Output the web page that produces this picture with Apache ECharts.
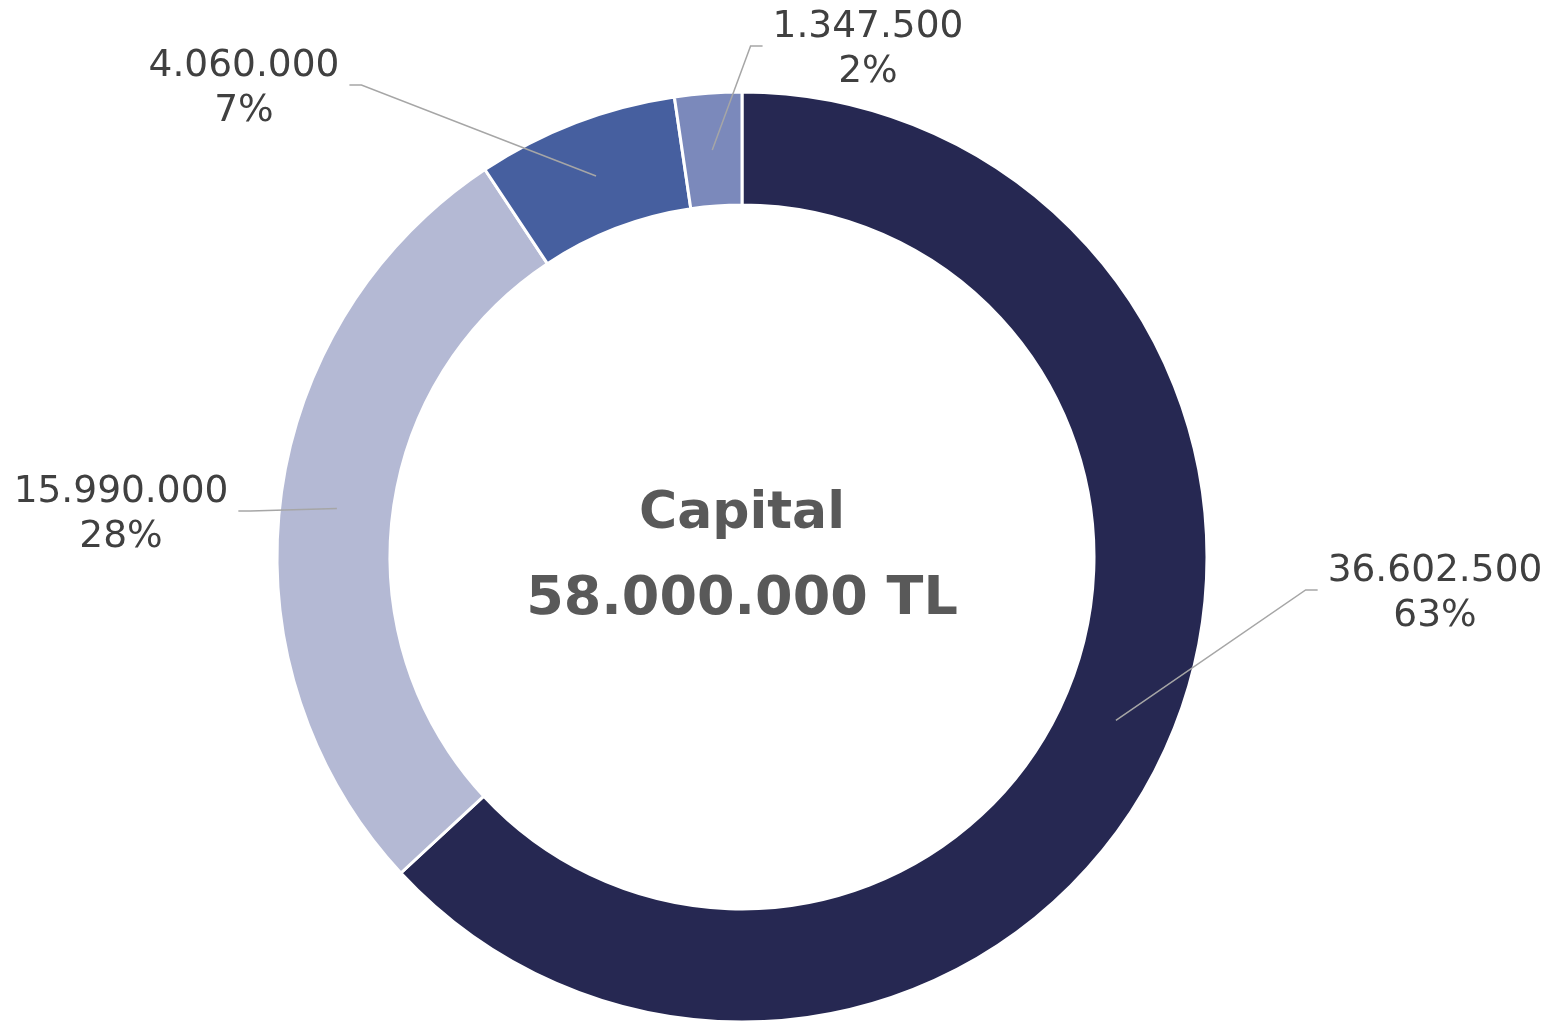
<!DOCTYPE html>
<html>
<head>
<meta charset="utf-8">
<title>Capital</title>
<script src="https://cdn.jsdelivr.net/npm/echarts@6/dist/echarts.min.js"></script>
<style>
  html, body { margin: 0; padding: 0; background: #ffffff; }
  #chart { width: 1552px; height: 1023px; }
</style>
</head>
<body>
<div id="chart"></div>
<script>
// data
const sliceNames = ['Pay 1', 'Pay 2', 'Pay 3', 'Pay 4'];
const sliceValues = [36602500, 15990000, 4060000, 1347500];
const centerTitle = 'Capital';
const centerTotal = '58.000.000 TL';

// layout / style
const sliceColors = ['#262852', '#b4b9d4', '#465f9f', '#7b89bb'];
const labelCenters = [[1435, 594], [121, 515], [244, 89], [868, 50]];
const chartCenter = [742, 557];
const anchorRadius = 408; // leader lines start in the middle of the ring
const fontFamily = 'Verdana, "DejaVu Sans", sans-serif';

const fmt = v => String(v).replace(/\B(?=(\d{3})+(?!\d))/g, '.');

const total = sliceValues.reduce((a, b) => a + b, 0);
// mid angle of each slice, clockwise from 12 o'clock
const midAngles = sliceValues.map((v, i) => {
  const before = sliceValues.slice(0, i).reduce((a, b) => a + b, 0);
  return (before + v / 2) / total * Math.PI * 2;
});

const ringData = sliceValues.map((v, i) => ({
  name: sliceNames[i],
  value: v,
  itemStyle: { color: sliceColors[i] }
}));
const labelData = sliceValues.map((v, i) => ({ name: sliceNames[i], value: v }));

const chart = echarts.init(document.getElementById('chart'));

const option = {
  backgroundColor: '#ffffff',
  animation: false,
  graphic: [
    {
      type: 'text', x: chartCenter[0], y: 514,
      style: { text: centerTitle, fill: '#595959', font: 'bold 52px ' + fontFamily, align: 'center', verticalAlign: 'middle' }
    },
    {
      type: 'text', x: chartCenter[0], y: 600,
      style: { text: centerTotal, fill: '#595959', font: 'bold 54px ' + fontFamily, align: 'center', verticalAlign: 'middle' }
    }
  ],
  series: [
    {
      type: 'pie',
      z: 2,
      center: chartCenter,
      radius: [352, 465],
      startAngle: 90,
      clockwise: true,
      silent: true,
      label: { show: false },
      labelLine: { show: false },
      itemStyle: { borderColor: '#ffffff', borderWidth: 3 },
      data: ringData
    },
    {
      // invisible pie on top, only carries the labels and leader lines
      type: 'pie',
      z: 5,
      center: chartCenter,
      radius: [0, anchorRadius],
      startAngle: 90,
      clockwise: true,
      silent: true,
      avoidLabelOverlap: false,
      itemStyle: { color: 'rgba(0,0,0,0)' },
      label: {
        show: true,
        position: 'outside',
        color: '#404040',
        fontFamily: fontFamily,
        fontSize: 37.5,
        lineHeight: 45,
        align: 'center',
        formatter: p => fmt(p.value) + '\n' + Math.round(p.percent) + '%'
      },
      labelLine: {
        show: true,
        length: 20,
        length2: 10,
        lineStyle: { color: '#a6a6a6', width: 1.5 }
      },
      labelLayout: function (p) {
        const i = p.dataIndex;
        const c = labelCenters[i];
        const w = p.labelRect.width;
        const onRight = c[0] > chartCenter[0];
        const ly = c[1] - 4;
        const endX = onRight ? c[0] - w / 2 - 10 : c[0] + w / 2 + 10;
        const elbowX = onRight ? endX - 12 : endX + 12;
        const a = midAngles[i];
        const start = [
          chartCenter[0] + anchorRadius * Math.sin(a),
          chartCenter[1] - anchorRadius * Math.cos(a)
        ];
        return {
          x: c[0],
          y: c[1],
          align: 'center',
          verticalAlign: 'middle',
          labelLinePoints: [start, [elbowX, ly], [endX, ly]]
        };
      },
      data: labelData
    }
  ]
};

chart.setOption(option);
window.addEventListener('resize', () => chart.resize());
</script>
</body>
</html>
